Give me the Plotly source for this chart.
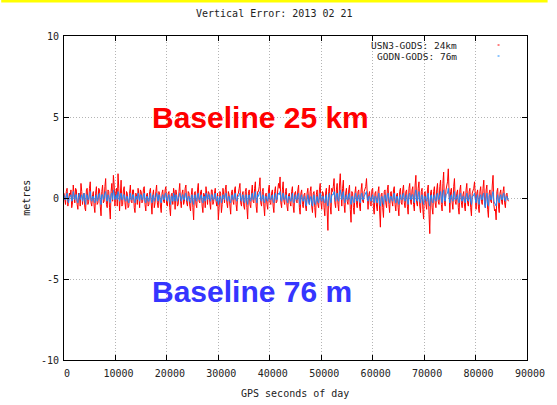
import plotly.graph_objects as go

# Samples on the even 300 s grid (0 ... 86400 s) and on the odd grid (150 ... 86250 s)
step_s = 300
time_even = [i * step_s for i in range(289)]
time_odd = [i * step_s + 150 for i in range(288)]

# USN3-GODS (24 km baseline) vertical error, metres — even grid
usn3_even = [
    0.3, -0.4, 0.6, -0.2, 0.1, -0.6, 0.8, -0.3, 0.5, -0.7, 0.2, 0.9, -0.4, 0.3, -0.8, 0.6, -0.2, 1.0, -0.5, 0.4,
    -0.9, 0.7, -0.3, 0.5, -1.1, 0.8, -0.2, 1.2, -0.6, 0.4, -1.3, 0.9, 1.4, -0.5, 0.6, 1.5, -0.8, 1.1, -0.4, 0.7,
    -0.7, 0.3, -0.5, 0.8, -0.3, 0.5, -0.9, 0.2, 0.6, -0.6, 0.4, -0.2, 0.7, -0.8, 0.3, -0.4, 0.6, -1.0, 0.5, -0.3,
    0.8, -0.6, 0.2, -0.9, 0.5, -0.3, 0.7, -0.5, 0.4, -1.1, 0.3, 0.6, -0.7, 0.2, -0.4, 0.9, -0.6, 0.5, -0.2, 0.8,
    -0.5, 0.3, -0.8, 0.6, -1.35, 0.4, -0.6, 0.9, -0.3, 0.5, -0.9, 0.2, 0.7, -0.4, 0.3, -0.7, 0.5, -0.2, 0.6, -0.5,
    -1.35, 0.4, -0.9, 0.6, -0.3, 0.8, -0.6, 0.2, -1.0, 0.5, -0.4, 0.7, -0.8, 0.3, 0.9, -0.5, 0.4, -0.7, 0.6, -1.3,
    0.5, -0.6, 0.8, -0.3, 1.0, -0.9, 0.4, 1.25, -0.5, 0.6, -1.1, 0.3, -0.7, 0.8, -0.4, 0.5, -0.9, 0.7, -0.2, 0.9,
    1.3, -0.6, 1.0, -0.4, 0.6, -0.8, 0.3, -0.5, 0.7, -0.9, 0.4, -0.3, 0.8, -1.0, 0.5, -0.6, 0.3, -0.8, 0.6, -0.4,
    0.7, -0.9, 0.4, -1.2, 0.5, -0.6, 0.9, -0.7, 0.3, -1.1, 0.6, -2.0, 0.8, -1.0, 0.4, 1.2, -0.6, 0.9, -0.8, 1.5,
    -0.5, 1.1, -0.9, 0.6, -0.4, 0.8, -1.5, 0.3, -1.0, 0.7, -0.6, 0.5, -0.8, 0.9, -0.3, 0.6, 1.2, -0.7, 0.4, -0.5,
    0.6, -1.0, 0.4, -0.8, 0.7, -1.8, 0.3, -1.2, 0.5, -0.6, 0.8, -0.9, 0.4, -0.5, 0.7, -0.8, 0.3, -1.1, 0.6, -0.4,
    0.8, -0.6, 0.5, -1.0, 0.9, -0.4, 0.7, -0.8, 1.4, -0.5, 1.0, -0.9, 0.6, -1.3, 0.4, -0.7, 0.8, -2.2, 0.5, -1.0,
    0.7, -0.6, 0.9, -0.4, 1.1, -0.8, 1.6, -0.5, 0.8, 1.8, -0.9, 0.6, -0.7, 1.2, -0.4, 0.5, -1.0, 0.8, -0.6, 0.4,
    -0.8, 0.9, -0.5, 0.6, -1.1, 0.4, 1.0, -0.7, 0.5, -0.9, 0.7, -0.4, 1.1, -0.6, 0.8, -1.2, 0.5, -0.3, 1.4, -0.8,
    -1.35, 0.6, -0.9, 0.5, -0.4, 0.7, -0.6, 0.3, -0.2,
]

# USN3-GODS — odd grid
usn3_odd = [
    -0.2, 0.4, -0.5, 0.3, 0.5, -0.3, 0.2, 0.6, -0.4, 0.3, -0.5, 0.4, 0.1, -0.6, 0.5, -0.4, 0.6, -0.3, 0.2, -0.5,
    0.3, -0.4, 0.6, -0.5, 0.4, -0.3, 0.7, -0.4, 0.5, -0.6, 0.4, -0.2, 0.8, 0.3, -0.5, 0.6, 0.2, -0.5, 0.5, -0.3,
    0.4, -0.6, 0.3, -0.2, 0.5, -0.6, 0.3, -0.4, 0.2, 0.5, -0.3, 0.6, -0.4, 0.2, -0.5, 0.4, -0.3, 0.2, -0.6, 0.4,
    -0.3, 0.4, -0.5, 0.3, -0.2, 0.5, -0.4, 0.3, -0.6, 0.2, -0.4, 0.3, 0.5, -0.5, 0.4, -0.2, 0.3, -0.4, 0.6, -0.3,
    0.4, -0.5, 0.2, -0.6, 0.3, -0.4, 0.5, -0.2, 0.4, -0.5, 0.3, -0.6, 0.2, 0.4, -0.3, 0.5, -0.4, 0.3, -0.2, 0.3,
    -0.6, 0.3, -0.4, 0.2, 0.5, -0.3, 0.4, -0.5, 0.3, -0.2, 0.5, -0.4, 0.2, 0.6, -0.3, 0.2, -0.5, 0.4, -0.6, 0.3,
    -0.4, 0.3, -0.2, 0.6, -0.5, 0.4, 0.7, -0.3, 0.4, -0.5, 0.2, -0.4, 0.5, -0.3, 0.3, -0.5, 0.4, -0.3, 0.5, 0.6,
    -0.3, 0.5, -0.2, 0.4, -0.5, 0.2, -0.3, 0.4, -0.5, 0.3, -0.2, 0.5, -0.6, 0.3, -0.4, 0.2, -0.5, 0.3, -0.2, 0.4,
    -0.5, 0.3, -0.6, 0.2, -0.4, 0.5, -0.3, 0.4, -0.6, 0.3, -0.8, 0.4, -0.5, 0.6, 0.7, -0.3, 0.5, -0.4, 0.8, 0.4,
    0.6, -0.4, 0.3, -0.2, 0.5, -0.7, 0.4, -0.6, 0.3, -0.3, 0.4, -0.5, 0.5, -0.2, 0.4, 0.7, -0.3, 0.2, -0.4, 0.5,
    -0.6, 0.3, -0.5, 0.4, -0.8, 0.2, -0.6, 0.4, -0.3, 0.5, -0.4, 0.3, -0.2, 0.5, -0.4, 0.2, -0.6, 0.4, -0.3, 0.5,
    -0.3, 0.4, -0.5, 0.6, -0.2, 0.5, -0.4, 0.8, -0.3, 0.6, -0.5, 0.4, -0.7, 0.3, -0.4, 0.5, -1.0, 0.3, -0.6, 0.4,
    -0.3, 0.5, -0.2, 0.7, -0.4, 0.9, -0.3, 0.5, 1.0, -0.5, 0.4, -0.3, 0.7, -0.2, 0.3, -0.6, 0.5, -0.3, 0.2, -0.5,
    0.5, -0.3, 0.4, -0.6, 0.3, 0.6, -0.4, 0.3, -0.5, 0.4, -0.2, 0.6, -0.3, 0.5, -0.7, 0.3, -0.2, 0.8, -0.4, -0.7,
    0.4, -0.5, 0.3, -0.2, 0.4, -0.3, 0.2, -0.1,
]

# GODN-GODS (76 m baseline) vertical error, metres — even grid
godn_even = [
    0.2, -0.1, 0.3, -0.3, 0.1, -0.2, 0.4, -0.1, 0.2, -0.3, 0.3, 0.0, -0.2, 0.3, -0.4, 0.2, -0.1, 0.4, -0.2, 0.1,
    -0.3, 0.2, -0.1, 0.3, -0.4, 0.2, 0.0, 0.4, -0.2, 0.1, -0.3, 0.3, 0.5, -0.1, 0.2, 0.4, -0.2, 0.3, -0.1, 0.2,
    -0.2, 0.1, -0.3, 0.3, -0.1, 0.2, -0.3, 0.1, 0.3, -0.2, 0.2, -0.1, 0.3, -0.3, 0.1, -0.2, 0.3, -0.3, 0.2, -0.1,
    0.3, -0.2, 0.1, -0.3, 0.2, -0.1, 0.3, -0.2, 0.2, -0.4, 0.1, 0.3, -0.2, 0.1, -0.1, 0.3, -0.2, 0.2, -0.1, 0.3,
    -0.2, 0.1, -0.3, 0.2, -0.4, 0.2, -0.2, 0.3, -0.1, 0.2, -0.3, 0.1, 0.3, -0.1, 0.2, -0.2, 0.2, -0.1, 0.3, -0.2,
    -0.4, 0.1, -0.3, 0.2, -0.1, 0.3, -0.2, 0.1, -0.3, 0.2, -0.1, 0.3, -0.2, 0.1, 0.3, -0.2, 0.2, -0.3, 0.2, -0.4,
    0.2, -0.2, 0.3, -0.1, 0.4, -0.3, 0.1, 0.4, -0.2, 0.2, -0.3, 0.1, -0.2, 0.3, -0.1, 0.2, -0.3, 0.3, -0.1, 0.3,
    0.4, -0.2, 0.3, -0.1, 0.2, -0.3, 0.1, -0.2, 0.3, -0.3, 0.2, -0.1, 0.3, -0.4, 0.2, -0.2, 0.1, -0.5, 0.2, -0.4,
    0.1, -0.5, 0.2, -0.4, 0.1, -0.3, 0.3, -0.2, 0.1, -0.3, 0.2, -0.5, 0.3, -0.3, 0.2, 0.4, -0.2, 0.3, -0.2, 0.5,
    -0.1, 0.4, -0.3, 0.2, -0.1, 0.3, -0.4, 0.1, -0.3, 0.3, -0.2, 0.2, -0.3, 0.3, -0.1, 0.2, 0.4, -0.2, 0.1, -0.2,
    0.2, -0.3, 0.1, -0.3, 0.3, -0.5, 0.1, -0.4, 0.2, -0.2, 0.3, -0.3, 0.1, -0.2, 0.3, -0.3, 0.1, -0.4, 0.2, -0.1,
    0.3, -0.2, 0.2, -0.4, 0.3, -0.1, 0.2, -0.3, 0.5, -0.2, 0.4, -0.3, 0.2, -0.4, 0.1, -0.2, 0.3, -0.5, 0.2, -0.3,
    0.2, -0.2, 0.3, -0.1, 0.4, -0.3, 0.5, -0.2, 0.3, 0.6, -0.3, 0.2, -0.2, 0.4, -0.1, 0.2, -0.3, 0.3, -0.2, 0.1,
    -0.3, 0.3, -0.2, 0.2, -0.4, 0.1, 0.3, -0.3, 0.2, -0.4, 0.2, -0.1, 0.3, -0.6, 0.3, -0.5, 0.2, -0.1, 0.4, -0.3,
    -0.5, 0.2, -0.3, 0.2, -0.1, 0.3, -0.2, 0.1, -0.1,
]

# GODN-GODS — odd grid
godn_odd = [
    -0.1, 0.2, -0.2, 0.1, 0.2, -0.1, 0.1, 0.2, -0.2, 0.1, -0.1, 0.2, 0.0, -0.2, 0.2, -0.1, 0.2, -0.1, 0.1, -0.2,
    0.1, -0.2, 0.2, -0.1, 0.2, -0.1, 0.3, -0.1, 0.2, -0.2, 0.2, -0.1, 0.3, 0.1, -0.1, 0.2, 0.1, -0.1, 0.2, -0.1,
    0.1, -0.2, 0.1, -0.1, 0.2, -0.2, 0.1, -0.1, 0.1, 0.2, -0.1, 0.2, -0.2, 0.1, -0.2, 0.1, -0.1, 0.1, -0.2, 0.1,
    -0.1, 0.2, -0.2, 0.1, -0.1, 0.2, -0.1, 0.1, -0.2, 0.1, -0.2, 0.1, 0.2, -0.2, 0.1, -0.1, 0.1, -0.1, 0.2, -0.1,
    0.1, -0.2, 0.1, -0.2, 0.1, -0.1, 0.2, -0.1, 0.1, -0.2, 0.1, -0.2, 0.1, 0.2, -0.1, 0.2, -0.1, 0.1, -0.1, 0.1,
    -0.2, 0.1, -0.1, 0.1, 0.2, -0.1, 0.1, -0.2, 0.1, -0.1, 0.2, -0.1, 0.1, 0.2, -0.1, 0.1, -0.2, 0.1, -0.2, 0.1,
    -0.1, 0.1, -0.1, 0.2, -0.1, 0.2, 0.3, -0.1, 0.1, -0.2, 0.1, -0.1, 0.2, -0.1, 0.1, -0.2, 0.1, -0.1, 0.2, 0.2,
    -0.1, 0.2, -0.1, 0.1, -0.2, 0.1, -0.1, 0.1, -0.2, 0.1, -0.1, 0.2, -0.2, 0.1, -0.1, 0.0, -0.3, -0.1, -0.2, 0.0,
    -0.3, 0.0, -0.3, -0.1, -0.2, 0.1, -0.1, 0.1, -0.2, 0.0, -0.3, 0.1, -0.1, 0.2, 0.2, -0.1, 0.2, -0.1, 0.3, 0.2,
    0.2, -0.1, 0.1, -0.1, 0.2, -0.2, 0.1, -0.2, 0.1, -0.1, 0.1, -0.2, 0.2, -0.1, 0.1, 0.2, -0.1, 0.1, -0.1, 0.1,
    -0.1, 0.1, -0.2, 0.1, -0.3, 0.0, -0.2, 0.1, -0.1, 0.2, -0.1, 0.1, -0.1, 0.2, -0.1, 0.1, -0.2, 0.1, -0.1, 0.2,
    -0.1, 0.1, -0.2, 0.2, -0.1, 0.2, -0.1, 0.3, -0.1, 0.2, -0.2, 0.1, -0.2, 0.1, -0.1, 0.2, -0.3, 0.1, -0.2, 0.1,
    -0.1, 0.2, -0.1, 0.2, -0.1, 0.3, -0.1, 0.2, 0.3, -0.1, 0.1, -0.1, 0.2, -0.1, 0.1, -0.2, 0.2, -0.1, 0.1, -0.2,
    0.1, -0.1, 0.1, -0.2, 0.1, 0.2, -0.1, 0.1, -0.2, 0.1, -0.1, 0.2, -0.3, 0.0, -0.3, 0.1, -0.1, 0.2, -0.2, -0.3,
    0.0, -0.2, 0.1, -0.1, 0.2, -0.1, 0.1, -0.1,
]

series_names = ["USN3-GODS: 24km", "GODN-GODS: 76m"]
series_colors = ["#ff0000", "#1a8cff"]
x_ticks = [0, 10000, 20000, 30000, 40000, 50000, 60000, 70000, 80000, 90000]
y_ticks = [-10, -5, 0, 5, 10]


def merge(t_a, v_a, t_b, v_b):
    pairs = sorted(zip(t_a + t_b, v_a + v_b))
    return [p[0] for p in pairs], [p[1] for p in pairs]


W, H = 557, 405
ML, MR, MT, MB = 64, 21, 36, 45
PW, PH = W - ML - MR, H - MT - MB

small = dict(family="DejaVu Sans Mono", size=10, color="#222222")
legend_font = dict(family="DejaVu Sans Mono", size=9.5, color="#222222")

fig = go.Figure()
for (va, vb), name, col in zip([(usn3_even, usn3_odd), (godn_even, godn_odd)], series_names, series_colors):
    tx, vy = merge(time_even, va, time_odd, vb)
    fig.add_trace(go.Scatter(x=tx, y=vy, mode="lines", name=name,
                             line=dict(color=col, width=1), showlegend=False, hoverinfo="skip"))

axis_common = dict(showline=True, linecolor="#000000", linewidth=1, mirror="allticks",
                   ticks="inside", ticklen=5, tickcolor="#000000", showgrid=True,
                   gridcolor="#b4b4b4", griddash="1px,2px", gridwidth=1, zeroline=False,
                   tickfont=small)

fig.update_xaxes(range=[0, 90000], tickvals=x_ticks, ticktext=[str(v) for v in x_ticks],
                 ticklabelstandoff=4, ticklabelshift=3, **axis_common)
fig.update_yaxes(range=[-10, 10], tickvals=y_ticks, ticktext=[str(v) for v in y_ticks],
                 ticklabelstandoff=2, **axis_common)


def px_x(px):
    return (px - ML) / PW


def px_y(py):
    return 1 - (py - MT) / PH


annotations = [
    dict(text="Vertical Error: 2013 02 21", xref="paper", yref="paper", x=px_x(279), y=px_y(14),
         showarrow=False, font=small, xanchor="center", yanchor="middle"),
    dict(text="GPS seconds of day", xref="paper", yref="paper", x=px_x(299), y=px_y(393),
         showarrow=False, font=small, xanchor="center", yanchor="middle"),
    dict(text="metres", xref="paper", yref="paper", x=px_x(25), y=px_y(198), textangle=-90,
         showarrow=False, font=small, xanchor="center", yanchor="middle"),
    dict(text="Baseline 25 km", xref="paper", yref="paper", x=px_x(264), y=px_y(117),
         showarrow=False, font=dict(family="Liberation Sans", size=30, color="#ff0000", weight="bold"),
         xanchor="center", yanchor="middle"),
    dict(text="Baseline 76 m", xref="paper", yref="paper", x=px_x(256), y=px_y(291),
         showarrow=False, font=dict(family="Liberation Sans", size=30, color="#3535ff", weight="bold"),
         xanchor="center", yanchor="middle"),
    dict(text=series_names[0], xref="paper", yref="paper", x=px_x(467), y=px_y(45),
         showarrow=False, font=legend_font, xanchor="right", yanchor="middle"),
    dict(text=series_names[1], xref="paper", yref="paper", x=px_x(467), y=px_y(56),
         showarrow=False, font=legend_font, xanchor="right", yanchor="middle"),
]

shapes = [
    # yellow strip along the top edge
    dict(type="rect", xref="paper", yref="paper", x0=px_x(0), x1=px_x(W), y0=px_y(2.5), y1=px_y(0),
         fillcolor="#ffff00", line=dict(width=0), layer="above"),
    # legend samples
    dict(type="line", xref="paper", yref="paper", x0=px_x(506), x1=px_x(508), y0=px_y(45), y1=px_y(45),
         line=dict(color=series_colors[0], width=1)),
    dict(type="line", xref="paper", yref="paper", x0=px_x(506), x1=px_x(508), y0=px_y(56), y1=px_y(56),
         line=dict(color=series_colors[1], width=1)),
]

fig.update_layout(width=W, height=H, margin=dict(l=ML, r=MR, t=MT, b=MB),
                  paper_bgcolor="#ffffff", plot_bgcolor="#ffffff",
                  annotations=annotations, shapes=shapes, showlegend=False)

fig.write_html("out.html", config={"displayModeBar": False},
               post_script="document.body.style.margin='0';document.body.style.padding='0';")
